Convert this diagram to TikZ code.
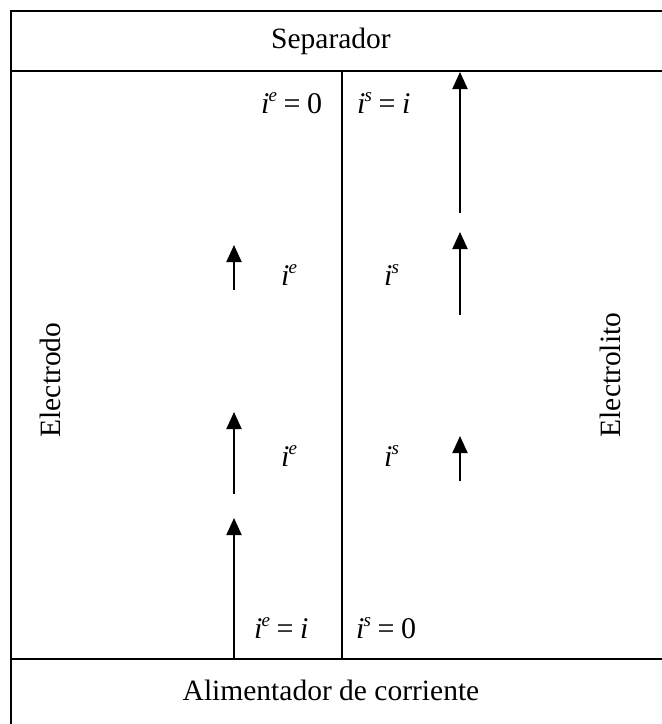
\documentclass[tikz,border=0pt]{standalone}
\usepackage{fontspec}
\setmainfont{Liberation Serif}
\usetikzlibrary{arrows.meta}
\newcommand{\curr}[1]{{\itshape i}\kern-0.03em\raisebox{0.40em}{\fontsize{19}{19}\selectfont\itshape #1}}
\newcommand{\eqs}{\hspace{0.22em}=\hspace{0.22em}}
\tikzset{
  frame/.style={line width=1.8pt},
  flow/.style={line width=2pt,-{Triangle[width=15pt,length=17pt]}},
  lbl/.style={font=\fontsize{29.5}{32}\selectfont, inner sep=0pt},
  eq/.style={font=\fontsize{30}{32}\selectfont, inner sep=0pt, anchor=base west},
}
\begin{document}
\begin{tikzpicture}[x=1pt,y=-1pt]
\useasboundingbox (0,0) rectangle (662,724);
\clip (0,0) rectangle (662,724);
% frame
\draw[frame] (11,740) -- (11,11) -- (680,11);
\draw[frame] (11,71) -- (680,71);
\draw[frame] (11,659) -- (680,659);
\draw[frame] (342,71) -- (342,659);
% headings
\node[lbl] (sep) at (331,41) {Separador};
\node[lbl] (alim) at (331,690) {Alimentador de corriente};
\node[lbl, rotate=90] (electrodo) at (50,380) {Electrodo};
\node[lbl, rotate=90] (electrolito) at (610,375) {Electrolito};
% labels
\node[eq] (e1) at (261,113) {\curr{e}\eqs 0};
\node[eq] (s1) at (357,113) {\curr{s}\eqs\textit{i}};
\node[eq] (e2) at (281,285) {\curr{e}};
\node[eq] (s2) at (384,285) {\curr{s}};
\node[eq] (e3) at (281,466) {\curr{e}};
\node[eq] (s3) at (384,466) {\curr{s}};
\node[eq] (e4) at (254,638) {\curr{e}\eqs\textit{i}};
\node[eq] (s4) at (356,638) {\curr{s}\eqs 0};
% arrow end points
\coordinate (a1s) at (234,659); \coordinate (a1e) at (234,518);
\coordinate (a2s) at (234,494); \coordinate (a2e) at (234,412);
\coordinate (a3s) at (234,290); \coordinate (a3e) at (234,245);
\coordinate (b1s) at (460,481); \coordinate (b1e) at (460,436);
\coordinate (b2s) at (460,315); \coordinate (b2e) at (460,232);
\coordinate (b3s) at (460,213); \coordinate (b3e) at (460,72);
\draw[flow] (a1s) -- (a1e);
\draw[flow] (a2s) -- (a2e);
\draw[flow] (a3s) -- (a3e);
\draw[flow] (b1s) -- (b1e);
\draw[flow] (b2s) -- (b2e);
\draw[flow] (b3s) -- (b3e);
\end{tikzpicture}
\end{document}
